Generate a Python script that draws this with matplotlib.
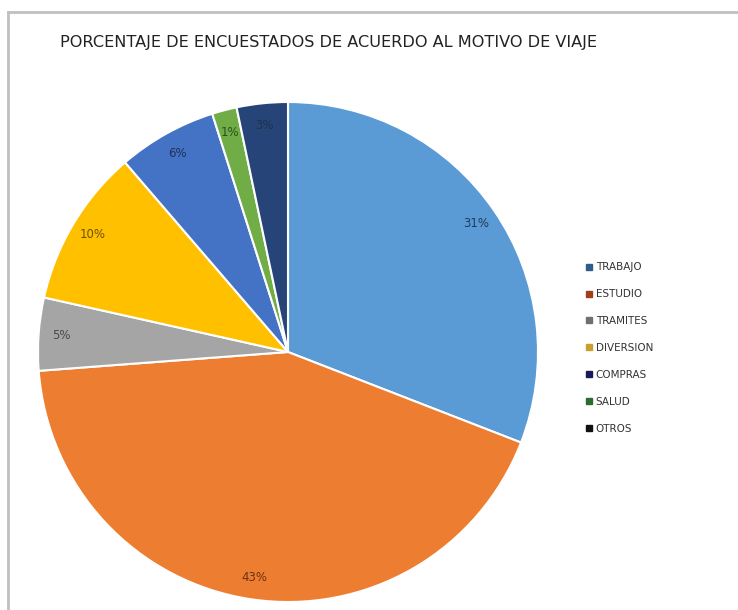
import numpy as np
import matplotlib.pyplot as plt
from matplotlib.lines import Line2D

plt.rcParams['font.family'] = ['DejaVu Sans']

categorias = ['TRABAJO', 'ESTUDIO', 'TRAMITES', 'DIVERSION', 'COMPRAS', 'SALUD', 'OTROS']
valores = [30.9, 42.9, 4.7, 10.2, 6.4, 1.6, 3.3]
etiquetas = ['31%', '43%', '5%', '10%', '6%', '1%', '3%']

colores = ['#5B9BD5', '#ED7D31', '#A5A5A5', '#FFC000', '#4472C4', '#70AD47', '#264478']
colores_txt = ['#1F3B5C', '#6B3210', '#4A4A4A', '#6B5200', '#1F315A', '#2E4F1C', '#1F3350']
colores_ley = ['#2E5D8C', '#A0401A', '#707070', '#C8A030', '#1A1A5A', '#2E6B2E', '#111111']

fig = plt.figure(figsize=(7.38, 6.10), dpi=100)
ax = fig.add_axes([38 / 738, 8 / 610, 500 / 738, 500 / 610])

wedges, _ = ax.pie(valores, colors=colores, startangle=90, counterclock=False,
                   radius=1, wedgeprops=dict(edgecolor='white', linewidth=1.5))
ax.set_xlim(-1, 1)
ax.set_ylim(-1, 1)
ax.set_aspect('auto')

for w, txt, c in zip(wedges, etiquetas, colores_txt):
    ang = np.deg2rad((w.theta1 + w.theta2) / 2)
    r = 0.91
    ax.text(r * np.cos(ang), r * np.sin(ang), txt, ha='center', va='center',
            fontsize=8.5, color=c)

fig.text(60 / 738, 1 - 42 / 610, 'PORCENTAJE DE ENCUESTADOS DE ACUERDO AL MOTIVO DE VIAJE',
         fontsize=11.6, va='center', ha='left', color='#222222')

handles = [Line2D([], [], marker='s', linestyle='', markersize=4,
                  markerfacecolor=c, markeredgecolor=c) for c in colores_ley]
fig.legend(handles, categorias, loc='center left', bbox_to_anchor=(576 / 738, 1 - 348 / 610),
           frameon=False, fontsize=7.5, labelspacing=1.62, handlelength=0.6,
           handletextpad=0.4, labelcolor='#333333')

# marco gris
fig.add_artist(Line2D([8 / 738, 1], [1 - 12 / 610, 1 - 12 / 610], color='#C0C0C0', lw=2,
                      transform=fig.transFigure))
fig.add_artist(Line2D([8 / 738, 8 / 738], [0, 1 - 12 / 610], color='#C0C0C0', lw=2,
                      transform=fig.transFigure))

fig.savefig('out.png', dpi=100)
